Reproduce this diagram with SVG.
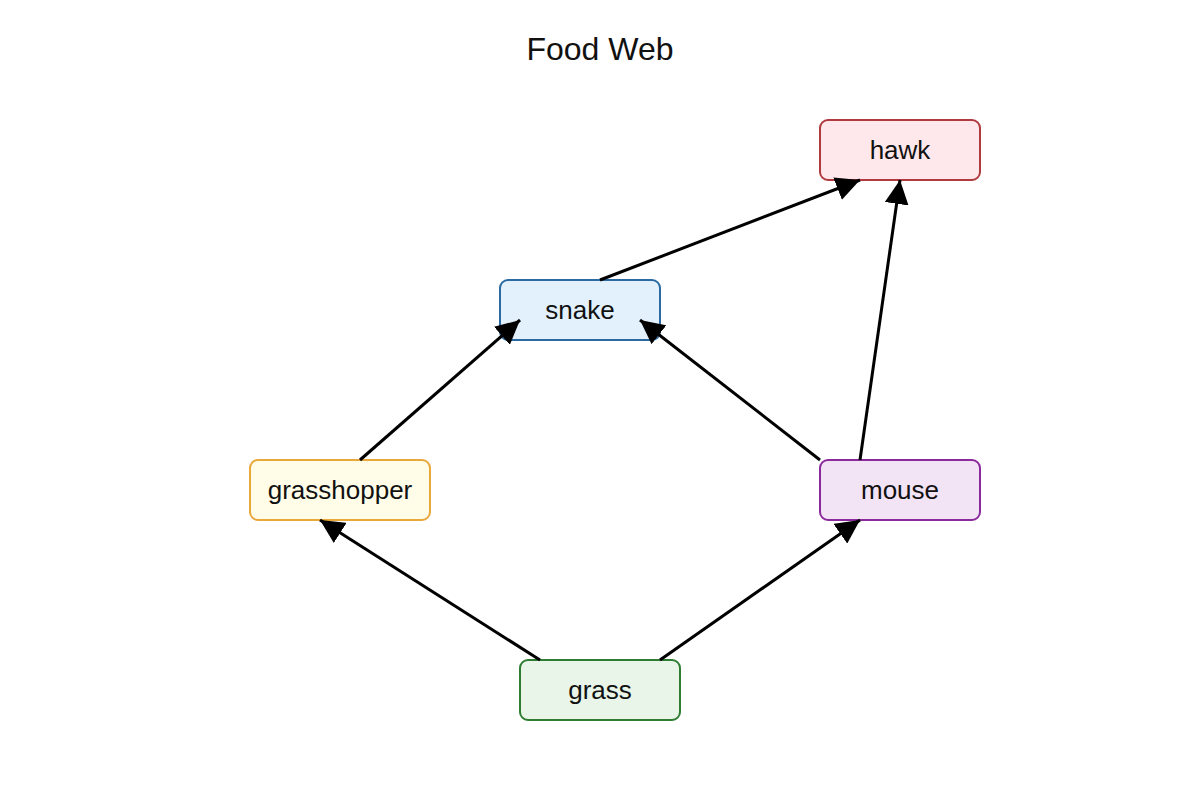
<svg xmlns="http://www.w3.org/2000/svg" width="1200" height="800" viewBox="0 0 1200 800">
<defs>
<marker id="arr" viewBox="0 0 10 10" refX="10" refY="5" markerWidth="8" markerHeight="8" markerUnits="strokeWidth" orient="auto">
<path d="M0,0 L10,5 L0,10 z" fill="#000"/>
</marker>
<style>
text{font-family:"Liberation Sans",Arial,sans-serif;fill:#111;}
.lbl{font-size:26px;text-anchor:middle;dominant-baseline:central;}
.title{font-size:32px;text-anchor:middle;}
.e{stroke:#000;stroke-width:3;fill:none;marker-end:url(#arr);}
rect{stroke-width:2;}
</style>
</defs>
<rect width="1200" height="800" fill="#fff"/>
<text class="title" x="600" y="60">Food Web</text>
<g id="n-hawk"><rect x="820" y="120" width="160" height="60" rx="8" fill="#ffe8ec" stroke="#b03a3e"/><text class="lbl" x="900" y="150">hawk</text></g>
<g id="n-snake"><rect x="500" y="280" width="160" height="60" rx="8" fill="#e3f1fc" stroke="#2c6aa4"/><text class="lbl" x="580" y="310">snake</text></g>
<g id="n-grasshopper"><rect x="250" y="460" width="180" height="60" rx="8" fill="#fffde8" stroke="#e8a83a"/><text class="lbl" x="340" y="490">grasshopper</text></g>
<g id="n-mouse"><rect x="820" y="460" width="160" height="60" rx="8" fill="#f3e4f5" stroke="#8b2a9c"/><text class="lbl" x="900" y="490">mouse</text></g>
<g id="n-grass"><rect x="520" y="660" width="160" height="60" rx="8" fill="#e8f5e8" stroke="#2e7d32"/><text class="lbl" x="600" y="690">grass</text></g>
<g id="edges">
<line class="e" x1="600" y1="280" x2="860" y2="180"/>
<line class="e" x1="860" y1="460" x2="900" y2="180"/>
<line class="e" x1="360" y1="460" x2="520" y2="320"/>
<line class="e" x1="820" y1="460" x2="640" y2="320"/>
<line class="e" x1="540" y1="660" x2="320" y2="520"/>
<line class="e" x1="660" y1="660" x2="860" y2="520"/>
</g>
</svg>
